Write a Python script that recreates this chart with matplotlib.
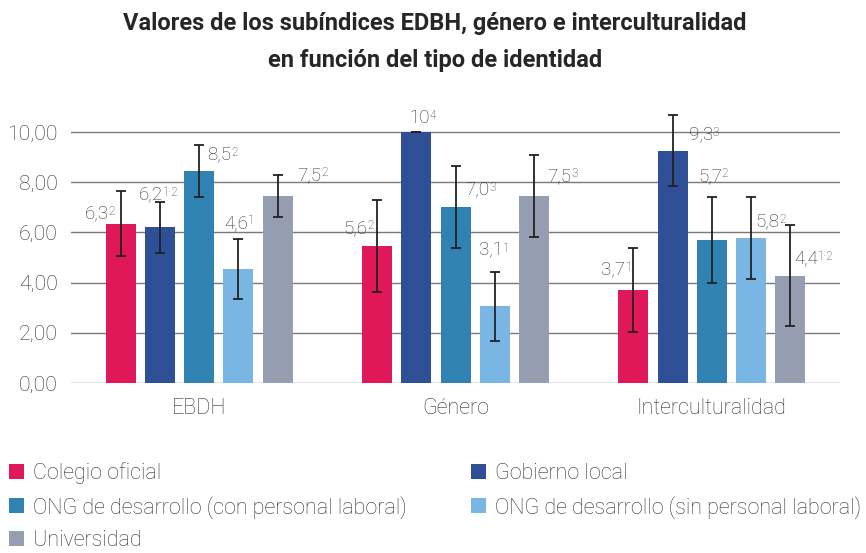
import numpy as np
import matplotlib
matplotlib.use("Agg")
import matplotlib.pyplot as plt
from matplotlib.patches import Patch

plt.rcParams['font.family'] = ['Roboto', 'DejaVu Sans']

groups = ["EBDH", "Género", "Interculturalidad"]
series = ["Colegio oficial", "Gobierno local",
          "ONG de desarrollo (con personal laboral)",
          "ONG de desarrollo (sin personal laboral)", "Universidad"]
colors = ["#E0185A", "#2F4F96", "#2F82B1", "#7AB6E3", "#959FB1"]

# values per series, one entry per group (EBDH, Género, Interculturalidad)
values = [
    [6.35, 5.45, 3.70],
    [6.20, 10.00, 9.25],
    [8.45, 7.00, 5.70],
    [4.55, 3.05, 5.78],
    [7.45, 7.45, 4.28],
]
errors = [
    [1.30, 1.83, 1.68],
    [1.03, 0.00, 1.42],
    [1.02, 1.63, 1.72],
    [1.19, 1.38, 1.63],
    [0.83, 1.63, 2.00],
]
labels_main = [
    ["6,3", "5,6", "3,7"],
    ["6,2", "10", "9,3"],
    ["8,5", "7,0", "5,7"],
    ["4,6", "3,1", "5,8"],
    ["7,5", "7,5", "4,4"],
]
labels_sup = [
    ["2", "2", "1"],
    ["1·2", "4", "3"],
    ["2", "3", "2"],
    ["1", "1", "2"],
    ["2", "3", "1·2"],
]
# label placement: left edge offset (pixels from bar centre) and baseline value
label_dx = [
    [-36, -34, -32],
    [-21, -7, 16],
    [8, 10, -14],
    [-14, -16, 4],
    [20, 13, 4],
]
label_y = [
    [6.57, 5.98, 4.34],
    [7.33, 10.36, 9.72],
    [8.92, 7.53, 8.05],
    [6.18, 5.07, 6.23],
    [8.09, 8.05, 4.78],
]

text_col = "#333333"
fig = plt.figure(figsize=(8.66, 5.53), dpi=100)
ax = fig.add_axes([0.082, 0.3074, 0.888, 0.4993])

x = np.arange(len(groups))
pitch = 0.153
width = 0.117
for i in range(len(series)):
    xs = x + (i - 2) * pitch
    ax.bar(xs, values[i], width=width, color=colors[i], zorder=3, label=series[i])
    ax.errorbar(xs, values[i], yerr=errors[i], fmt="none", ecolor="#222222",
                elinewidth=1.3, capsize=3.5, capthick=1.3, zorder=4, clip_on=False)
    for j in range(len(groups)):
        t = ax.annotate(labels_main[i][j], xy=(xs[j], label_y[i][j]),
                        xytext=(label_dx[i][j], 0), textcoords="offset pixels",
                        ha="left", va="baseline", fontsize=13.5,
                        color=text_col, fontweight="light", zorder=5)
        ax.annotate(labels_sup[i][j], xy=(1.0, 0.97), xycoords=t,
                    ha="left", va="top", fontsize=8.5,
                    color=text_col, fontweight="light", zorder=5)

ax.set_xlim(-0.5, 2.5)
ax.set_ylim(0, 11)
ax.set_yticks(np.arange(0, 11, 2))
ax.set_yticklabels([f"{v:.2f}".replace(".", ",") for v in np.arange(0, 11, 2)])
ax.set_xticks(x)
ax.set_xticklabels(groups)
for s in ax.spines.values():
    s.set_visible(False)
ax.tick_params(axis="y", length=0, pad=9.4, labelsize=15.3, labelcolor=text_col)
ax.tick_params(axis="x", length=0, pad=10.5, labelsize=15.5, labelcolor=text_col)
for lab in ax.get_xticklabels() + ax.get_yticklabels():
    lab.set_fontweight("light")
ax.yaxis.grid(True, color="#7a7a7a", lw=1.0, zorder=0)
ax.set_axisbelow(True)

fig.text(0.502, 0.978, "Valores de los subíndices EDBH, género e interculturalidad\nen función del tipo de identidad",
         ha="center", va="top", fontsize=17, fontweight="bold", color="#262626",
         linespacing=1.75)

order = [0, 2, 4, 1, 3]
handles = [Patch(facecolor=colors[k]) for k in order]
leg = fig.legend(handles, [series[k] for k in order], ncol=2,
                 loc="upper left", bbox_to_anchor=(0.003, 0.176),
                 frameon=False, fontsize=15.5, handlelength=0.7, handleheight=0.7,
                 handletextpad=0.4, columnspacing=3.0, labelspacing=0.55,
                 borderaxespad=0, borderpad=0.3)
for t in leg.get_texts():
    t.set_color(text_col)
    t.set_fontweight("light")

fig.savefig("out.png", dpi=100)
